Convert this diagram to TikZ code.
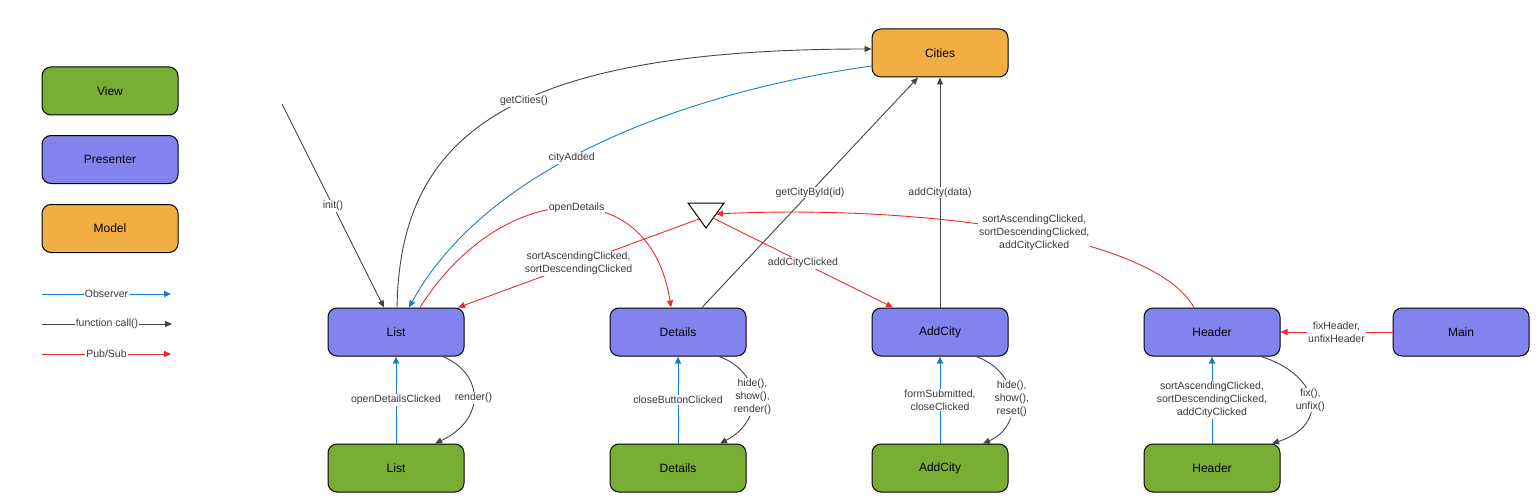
\documentclass[tikz,border=0pt]{standalone}
\usepackage{fontspec}
\setmainfont{Liberation Sans}
\usetikzlibrary{arrows.meta}
\definecolor{vgreen}{HTML}{79AE34}
\definecolor{vpres}{HTML}{8383EE}
\definecolor{vmodel}{HTML}{F2AE45}
\definecolor{obsblue}{HTML}{1A7CC8}
\definecolor{pubred}{HTML}{EE2B2B}
\definecolor{callgray}{HTML}{444444}
\definecolor{lblgray}{HTML}{3A3A3A}
\begin{document}
\begin{tikzpicture}[x=1pt,y=-1pt,
  box/.style={draw=black, line width=1pt, rounded corners=9pt, minimum width=136pt, minimum height=48pt, inner sep=0pt, font=\fontsize{12}{14}\selectfont},
  viewbox/.style={box, fill=vgreen},
  presbox/.style={box, fill=vpres},
  modelbox/.style={box, fill=vmodel},
  lbl/.style={fill=white, inner sep=1pt, font=\fontsize{10.5}{13}\selectfont, text=lblgray, align=center},
  tip/.style={-{Triangle[length=7pt,width=6pt]}},
  callln/.style={draw=callgray, line width=0.9pt, tip},
  obsln/.style={draw=obsblue, line width=0.9pt, tip},
  publn/.style={draw=pubred, line width=0.9pt, tip}]
\useasboundingbox (0,0) rectangle (1538,500);

% legend
\node[viewbox] (legView) at (110,91) {View};
\node[presbox] (legPres) at (110,159.5) {Presenter};
\node[modelbox] (legModel) at (110,228.5) {Model};
\coordinate (lo1) at (42,294); \coordinate (lo2) at (171,294);
\coordinate (lc1) at (42,324); \coordinate (lc2) at (172,324);
\coordinate (lp1) at (42,354); \coordinate (lp2) at (171,354);
\draw[obsln] (lo1) -- node[lbl]{Observer} (lo2);
\draw[callln] (lc1) -- node[lbl]{function call()} (lc2);
\draw[publn] (lp1) -- node[lbl]{Pub/Sub} (lp2);

% nodes
\node[modelbox] (cities) at (940,53) {Cities};
\node[presbox] (listP) at (396,332) {List};
\node[presbox] (detP) at (678,332) {Details};
\node[presbox] (addP) at (940,332) {AddCity};
\node[presbox] (hdrP) at (1212,332) {Header};
\node[presbox] (mainP) at (1461,332) {Main};
\node[viewbox] (listV) at (396,468) {List};
\node[viewbox] (detV) at (678,468) {Details};
\node[viewbox] (addV) at (940,468) {AddCity};
\node[viewbox] (hdrV) at (1212,468) {Header};

% pub/sub triangle
\coordinate (triA) at (688,203);
\coordinate (triC) at (724,203);
\coordinate (triB) at (706,228);
\draw[black, line width=1pt, fill=white] (triA) -- (triC) -- (triB) -- cycle;
\coordinate (triSort) at (699,219);
\coordinate (triAdd) at (713,218);
\coordinate (triIn) at (716,214);

\coordinate (initStart) at (282,104);

% function calls
\draw[callln] (initStart) -- node[lbl, pos=0.5]{init()} ([xshift=-12pt]listP.north);
\draw[callln] ([xshift=1pt]listP.north) .. controls (400,140) and (500,49) .. node[lbl, pos=0.56]{getCities()} ([yshift=4pt]cities.west);
\draw[callln] ([xshift=24pt]detP.north) -- node[lbl, pos=0.5]{getCityById(id)} ([xshift=-22pt]cities.south);
\draw[callln] (addP.north) -- node[lbl, pos=0.5]{addCity(data)} (cities.south);
\draw[callln] ([xshift=47pt]listP.south) .. controls (485,375) and (485,420) .. node[lbl, pos=0.5]{render()} ([xshift=39pt]listV.north);
\draw[callln] ([xshift=41pt]detP.south) .. controls (762,372) and (765,420) .. node[lbl, pos=0.5]{hide(),\\show(),\\render()} ([xshift=42pt]detV.north);
\draw[callln] ([xshift=36pt]addP.south) .. controls (1020,372) and (1025,425) .. node[lbl, pos=0.5]{hide(),\\show(),\\reset()} ([xshift=43pt]addV.north);
\draw[callln] ([xshift=49pt]hdrP.south) .. controls (1320,375) and (1330,425) .. node[lbl, pos=0.5]{fix(),\\unfix()} ([xshift=60pt]hdrV.north);

% observer
\draw[obsln] ([yshift=-13pt]cities.west) .. controls (700,90) and (490,160) .. node[lbl, pos=0.57]{cityAdded} ([xshift=13pt]listP.north);
\draw[obsln] (listV.north) -- node[lbl]{openDetailsClicked} (listP.south);
\draw[obsln] (detV.north) -- node[lbl]{closeButtonClicked} (detP.south);
\draw[obsln] (addV.north) -- node[lbl]{formSubmitted,\\closeClicked} (addP.south);
\draw[obsln] (hdrV.north) -- node[lbl]{sortAscendingClicked,\\sortDescendingClicked,\\addCityClicked} (hdrP.south);

% pub/sub
\draw[publn] ([xshift=24pt]listP.north) .. controls (500,180) and (650,170) .. node[lbl, pos=0.53]{openDetails} ([xshift=-7pt]detP.north);
\draw[publn] (triSort) -- node[lbl, pos=0.5]{sortAscendingClicked,\\sortDescendingClicked} ([xshift=62pt]listP.north);
\draw[publn] (triAdd) -- node[lbl, pos=0.5]{addCityClicked} ([xshift=-47pt]addP.north);
\draw[publn] ([xshift=-18pt]hdrP.north) .. controls (1150,230) and (900,205) .. node[lbl, pos=0.45]{sortAscendingClicked,\\sortDescendingClicked,\\addCityClicked} (triIn);
\draw[publn] (mainP.west) -- node[lbl]{fixHeader,\\unfixHeader} (hdrP.east);
\end{tikzpicture}
\end{document}
